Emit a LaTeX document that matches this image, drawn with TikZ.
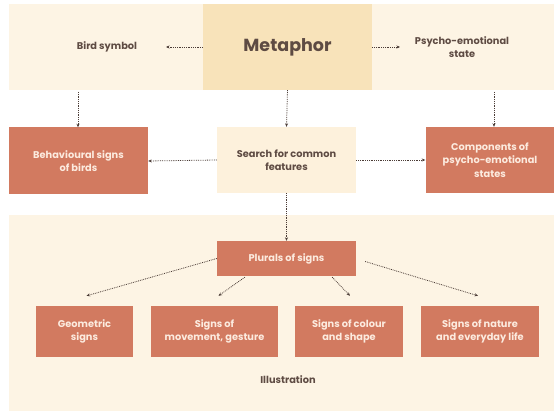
\documentclass[tikz,border=0pt]{standalone}
\usepackage{fontspec}
\setmainfont{Poppins}
\usetikzlibrary{arrows.meta}
\definecolor{cream}{HTML}{FDF4E4}
\definecolor{sand}{HTML}{F8E3BA}
\definecolor{paper}{HTML}{FDF1DC}
\definecolor{clay}{HTML}{D27A60}
\definecolor{ink}{HTML}{5E4B43}
\definecolor{chalk}{HTML}{FCEBDF}
\begin{document}
\begin{tikzpicture}[
            x = 1pt, y = -1pt,
            every node/.style = {font = \bfseries\fontsize{9.8}{13.5}\selectfont, align = center, text = ink, inner sep = 0pt},
            plain/.style = {},
            sandbox/.style = {fill = sand, minimum width = 169pt, minimum height = 86pt},
            paperbox/.style = {fill = paper, minimum width = 139pt, minimum height = 66pt},
            claybox/.style = {fill = clay, text = chalk, minimum height = 51pt},
            arr/.style = {draw = ink!80!black, densely dotted, thick, -{Stealth[length = 3.5pt, width = 3pt]}}
        ]
        \useasboundingbox (0,0) rectangle (554,411);
        \fill[cream] (9,4) rectangle (554,90);
        \fill[cream] (9,215) rectangle (554,411);

        \node[sandbox, font = \bfseries\fontsize{17.5}{20}\selectfont] (metaphor) at (287.5,47) {Metaphor};
        \node[plain] (bird) at (107,47) {Bird symbol};
        \node[plain] (psycho) at (462,47) {Psycho-emotional\\state};
        \coordinate (birdend) at (166,47);
        \coordinate (psyend) at (400,47);
        \coordinate (birddown) at (78,92);
        \coordinate (psydown) at (494,92);

        \node[claybox, minimum width = 139pt, minimum height = 67pt] (behav) at (78.5,161) {Behavioural signs\\of birds};
        \node[paperbox] (search) at (286.5,160) {Search for common\\features};
        \node[claybox, minimum width = 129pt, minimum height = 66pt] (comp) at (490,160) {Components of\\psycho-emotional\\states};

        \node[claybox, minimum width = 139pt, minimum height = 35pt] (plurals) at (286.5,258.5) {Plurals of signs};
        \node[claybox, minimum width = 97pt] (geo) at (84.5,331.5) {Geometric\\signs};
        \node[claybox, minimum width = 127pt] (move) at (214.5,331.5) {Signs of\\movement, gesture};
        \node[claybox, minimum width = 108pt] (colour) at (349,331.5) {Signs of colour\\and shape};
        \node[claybox, minimum width = 118pt] (nature) at (480,331.5) {Signs of nature\\and everyday life};
        \node[plain] (illus) at (288,380) {Illustration};

        \draw[arr] (metaphor.west) -- (birdend);
        \draw[arr] (metaphor.east) -- (psyend);
        \draw[arr] (birddown) -- (birddown |- behav.north);
        \draw[arr] (metaphor.south) -- (search.north);
        \draw[arr] (psydown) -- (psydown |- comp.north);
        \draw[arr] (search.west) -- (behav.east);
        \draw[arr] (search.east) -- (comp.west);
        \draw[arr] (search.south) -- (plurals.north);
        \draw[arr] (plurals.west) -- ([xshift = 2pt, yshift = 10pt]geo.north);
        \draw[arr] ([xshift = 28pt, yshift = -1pt]plurals.south west) -- ([xshift = 4pt, yshift = 10pt]move.north);
        \draw[arr] ([xshift = -24pt, yshift = -1pt]plurals.south east) -- ([xshift = 1pt, yshift = 10pt]colour.north);
        \draw[arr] ([xshift = 9pt, yshift = -3pt]plurals.east) -- ([xshift = -2pt, yshift = 10pt]nature.north);
    \end{tikzpicture}
\end{document}
